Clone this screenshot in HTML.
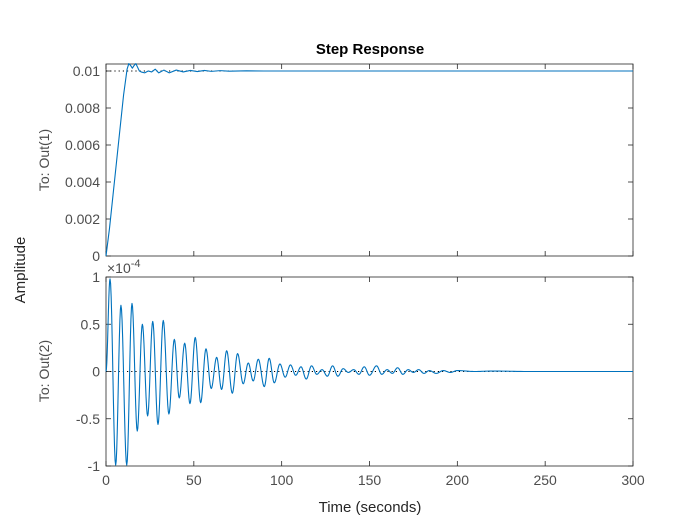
<!DOCTYPE html>
<html><head><meta charset="utf-8"><style>
body{margin:0;background:#fff;}
svg{display:block;font-family:"Liberation Sans",Arial,sans-serif;}
.tk{fill:#4d4d4d;font-size:14px;}
</style></head><body>
<svg id="chart" width="700" height="525" viewBox="0 0 700 525"></svg>
<script>
const xTicks=[0,50,100,150,200,250,300];
const topTicks=[0,0.002,0.004,0.006,0.008,0.01];
const topTickLabels=["0","0.002","0.004","0.006","0.008","0.01"];
const botTicks=[-1,-0.5,0,0.5,1];
const botTickLabels=["-1","-0.5","0","0.5","1"];
const out1Times=[0,2,4,6,8,10,12,13,14,15,16,17,18,19,20,22,24,26,28,30,33,36,40,44,48,52,56,60,65,70,80,90,100,120,150,200,300];
const out1Values=[0,0.0015,0.0033,0.0051,0.0069,0.0087,0.0101,0.0104,0.0103,0.01015,0.0103,0.0104,0.0102,0.01,0.00995,0.0099,0.01,0.00995,0.0101,0.0099,0.01005,0.0099,0.01005,0.00995,0.01003,0.00997,0.01003,0.00998,0.01002,0.00999,0.01001,0.01,0.01,0.01,0.01,0.01,0.01];
const out2Times=[0,2.3,5.5,8.5,11.8,14.8,17.8,20.7,23.7,26.6,29.6,32.6,35.8,38.9,41.7,44.8,47.8,50.8,53.9,56.9,59.9,63,65.8,68.7,71.9,74.9,78.1,81,83.8,86.7,90.1,92.9,95.8,99,102,105,108,111,114,117,120,123,126,129,132,135,138,141,144,147,150,154,157,160,163,166,169,172,175,178,181,184,188,192,196,200,210,220,240,260,300];
const out2Values=[0,0.98,-0.99,0.70,-0.99,0.72,-0.63,0.50,-0.47,0.53,-0.56,0.54,-0.45,0.34,-0.28,0.30,-0.34,0.36,-0.33,0.24,-0.18,0.15,-0.19,0.22,-0.23,0.19,-0.13,0.09,-0.10,0.13,-0.16,0.14,-0.12,0.08,-0.06,0.07,-0.04,0.05,-0.08,0.06,-0.03,0.02,-0.05,0.06,-0.05,0.03,-0.01,0.02,-0.03,0.05,-0.04,0.06,-0.03,0.02,-0.02,0.04,-0.03,0.02,-0.01,0.02,-0.02,0.01,-0.02,0.01,-0.01,0.01,0,0.005,0,0,0];
const NS="http://www.w3.org/2000/svg";
const svg=document.getElementById('chart');
const X0=106,X1=633;
const axTop={y0:64,y1:256,min:0,max:0.01*(256-64)/(256-71)};
const axBot={y0:277,y1:466,min:-1,max:1};
function xs(t){return X0+(t/300)*(X1-X0);}
function ys(ax,v){return ax.y1-(v-ax.min)/(ax.max-ax.min)*(ax.y1-ax.y0);}
function mk(tag,attrs,parent){const e=document.createElementNS(NS,tag);for(const k in attrs)e.setAttribute(k,attrs[k]);(parent||svg).appendChild(e);return e;}
function txt(s,x,y,attrs){const e=mk('text',Object.assign({x:x,y:y},attrs));e.textContent=s;return e;}
function axes(ax,ticks,labels,name,showX){
  const g=mk('g',{});
  
  
  mk('rect',{x:X0,y:ax.y0,width:X1-X0,height:ax.y1-ax.y0,fill:'#fff',stroke:'#262626','stroke-width':0.8},g);
  ticks.forEach((v,i)=>{const y=ys(ax,v);
    mk('line',{x1:X0,x2:X0+5,y1:y,y2:y,stroke:'#262626','stroke-width':0.8},g);
    mk('line',{x1:X1,x2:X1-5,y1:y,y2:y,stroke:'#262626','stroke-width':0.8},g);
    const t=txt(labels[i],X0-6,y+5,{'text-anchor':'end',class:'tk'});
    
    
  });
  xTicks.forEach(v=>{const x=xs(v);
    mk('line',{x1:x,x2:x,y1:ax.y1,y2:ax.y1-5,stroke:'#262626','stroke-width':0.8},g);
    mk('line',{x1:x,x2:x,y1:ax.y0,y2:ax.y0+5,stroke:'#262626','stroke-width':0.8},g);
    if(showX){const t=txt(String(v),x,ax.y1+19,{'text-anchor':'middle',class:'tk'});
      
      }
  });
  return g;
}
axes(axTop,topTicks,topTickLabels,'out1',false);
axes(axBot,botTicks,botTickLabels,'out2',true);
const ss1=mk('line',{x1:X0,x2:X1,y1:ys(axTop,0.01),y2:ys(axTop,0.01),stroke:'#000','stroke-dasharray':'1.2,3','stroke-width':1});


const ss2=mk('line',{x1:X0,x2:X1,y1:ys(axBot,0),y2:ys(axBot,0),stroke:'#000','stroke-dasharray':'1.2,3','stroke-width':1});


let d='';
out1Times.forEach((t,i)=>{d+=(i?'L':'M')+xs(t).toFixed(2)+','+ys(axTop,out1Values[i]).toFixed(2);});
const l1=mk('path',{d:d,fill:'none',stroke:'#0072BD','stroke-width':1.1,'stroke-linejoin':'round'});


let d2='M'+xs(out2Times[0])+','+ys(axBot,out2Values[0]);
for(let i=1;i<out2Times.length;i++){
  const ta=out2Times[i-1],tb=out2Times[i],va=out2Values[i-1],vb=out2Values[i];
  for(let k=1;k<=10;k++){const f=k/10;const w=(1-Math.cos(Math.PI*f))/2;
    d2+='L'+xs(ta+(tb-ta)*f).toFixed(2)+','+ys(axBot,va+(vb-va)*w).toFixed(2);}
}
const l2=mk('path',{d:d2,fill:'none',stroke:'#0072BD','stroke-width':1.1,'stroke-linejoin':'round'});


const ti=txt('Step Response',370,54,{'text-anchor':'middle','font-size':'15px','font-weight':'bold',fill:'#000'});


const xl=txt('Time (seconds)',370,512,{'text-anchor':'middle','font-size':'15px',fill:'#262626'});


const al=txt('Amplitude',25,270,{'text-anchor':'middle','font-size':'15px',fill:'#262626',transform:'rotate(-90 25 270)'});


const o1=txt('To: Out(1)',49,160,{'text-anchor':'middle','font-size':'14px',fill:'#4d4d4d',transform:'rotate(-90 49 160)'});


const o2=txt('To: Out(2)',49,371,{'text-anchor':'middle','font-size':'14px',fill:'#4d4d4d',transform:'rotate(-90 49 371)'});


const ex=mk('text',{x:107,y:273,class:'tk'});


ex.innerHTML='×10<tspan dy="-6" font-size="11">-4</tspan>';
</script>
</body></html>
